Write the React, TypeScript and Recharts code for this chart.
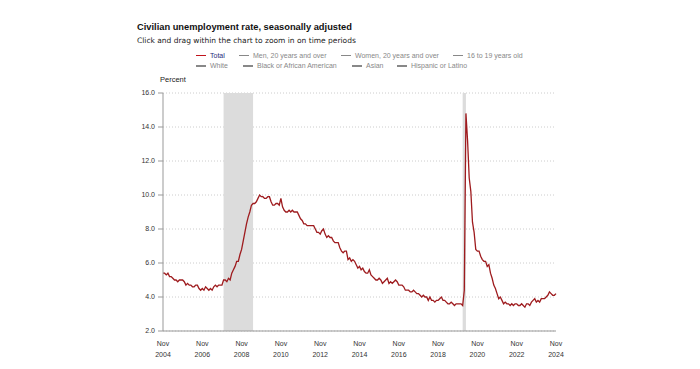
import { LineChart, Line, XAxis, YAxis, CartesianGrid, ReferenceArea } from 'recharts'

const MONTH_NAMES = ['Jan', 'Feb', 'Mar', 'Apr', 'May', 'Jun', 'Jul', 'Aug', 'Sep', 'Oct', 'Nov', 'Dec']
const START_YEAR = 2004
const START_MONTH = 10 // Nov

// monthly rate, Nov 2004 .. Nov 2024
const unemploymentRate = [
  5.4, 5.4,
  5.3, 5.4, 5.2, 5.2, 5.1, 5.0, 5.0, 4.9, 5.0, 5.0, 5.0, 4.9,
  4.7, 4.8, 4.7, 4.7, 4.6, 4.6, 4.7, 4.7, 4.5, 4.4, 4.5, 4.4,
  4.6, 4.5, 4.4, 4.5, 4.4, 4.6, 4.7, 4.6, 4.7, 4.7, 4.7, 5.0,
  5.0, 4.9, 5.1, 5.0, 5.4, 5.6, 5.8, 6.1, 6.1, 6.5, 6.8, 7.3,
  7.8, 8.3, 8.7, 9.0, 9.4, 9.5, 9.5, 9.6, 9.8, 10.0, 9.9, 9.9,
  9.8, 9.8, 9.9, 9.9, 9.6, 9.4, 9.4, 9.5, 9.5, 9.4, 9.8, 9.3,
  9.1, 9.0, 9.0, 9.1, 9.0, 9.1, 9.0, 9.0, 9.0, 8.8, 8.6, 8.5,
  8.3, 8.3, 8.2, 8.2, 8.2, 8.2, 8.2, 8.0, 7.8, 7.8, 7.7, 7.9,
  8.0, 7.7, 7.5, 7.6, 7.5, 7.5, 7.3, 7.2, 7.2, 7.2, 6.9, 6.7,
  6.6, 6.7, 6.7, 6.2, 6.3, 6.1, 6.2, 6.1, 5.9, 5.7, 5.8, 5.6,
  5.7, 5.5, 5.4, 5.4, 5.6, 5.3, 5.2, 5.1, 5.0, 5.0, 5.1, 5.0,
  4.8, 4.9, 5.0, 5.1, 4.8, 4.9, 4.8, 4.9, 5.0, 4.9, 4.7, 4.7,
  4.7, 4.6, 4.4, 4.4, 4.4, 4.3, 4.3, 4.4, 4.3, 4.2, 4.2, 4.1,
  4.0, 4.1, 4.0, 4.0, 3.8, 4.0, 3.8, 3.8, 3.7, 3.8, 3.8, 3.9,
  4.0, 3.8, 3.8, 3.7, 3.6, 3.6, 3.7, 3.6, 3.5, 3.6, 3.6, 3.6,
  3.6, 3.5, 4.4, 14.8, 13.2, 11.0, 10.2, 8.4, 7.8, 6.8, 6.7, 6.7,
  6.4, 6.2, 6.1, 6.1, 5.8, 5.9, 5.4, 5.1, 4.7, 4.5, 4.2, 3.9,
  4.0, 3.8, 3.6, 3.7, 3.6, 3.6, 3.5, 3.6, 3.5, 3.6, 3.6, 3.5,
  3.5, 3.6, 3.5, 3.4, 3.6, 3.6, 3.5, 3.7, 3.8, 3.9, 3.7, 3.8,
  3.7, 3.9, 3.9, 3.9, 4.0, 4.1, 4.3, 4.2, 4.1, 4.1, 4.2,
]

const recessions = [
  ['Dec 2007', 'Jun 2009'],
  ['Feb 2020', 'Apr 2020'],
]

const xTicks = ['Nov 2004', 'Nov 2006', 'Nov 2008', 'Nov 2010', 'Nov 2012', 'Nov 2014', 'Nov 2016', 'Nov 2018', 'Nov 2020', 'Nov 2022', 'Nov 2024']
const yTicks = [2, 4, 6, 8, 10, 12, 14, 16]

const legendRows = [
  [
    { name: 'Total', left: 196, active: true },
    { name: 'Men, 20 years and over', left: 239 },
    { name: 'Women, 20 years and over', left: 341 },
    { name: '16 to 19 years old', left: 453 },
  ],
  [
    { name: 'White', left: 196 },
    { name: 'Black or African American', left: 243 },
    { name: 'Asian', left: 352 },
    { name: 'Hispanic or Latino', left: 397 },
  ],
]

const data = unemploymentRate.map((rate, i) => {
  const m = (START_MONTH + i) % 12
  const y = START_YEAR + Math.floor((START_MONTH + i) / 12)
  return { i, label: `${MONTH_NAMES[m]} ${y}`, rate }
})

const indexOf = (label: string) => data.findIndex((d) => d.label === label)

const FONT = '"Liberation Sans", Arial, sans-serif'
const SMALL_FONT = '"DejaVu Sans", Verdana, sans-serif'

function XTick({ x, y, payload }: any) {
  const label = data[payload.value]?.label ?? ''
  const [mon, yr] = label.split(' ')
  return (
    <g transform={`translate(${x},${y})`}>
      <text textAnchor="middle" fontSize={7} fill="#333" fontFamily={FONT}>
        <tspan x={0} dy={14.5}>{mon}</tspan>
        <tspan x={0} dy={11.5}>{yr}</tspan>
      </text>
    </g>
  )
}

export default function App() {
  return (
    <div style={{ position: 'absolute', left: 0, top: 0, width: 700, height: 369, background: '#fff', fontFamily: FONT }}>
      <div style={{ position: 'absolute', left: 137, top: 21.5, fontSize: 9.3, lineHeight: '11px', fontWeight: 'bold', color: '#111' }}>
        Civilian unemployment rate, seasonally adjusted
      </div>
      <div style={{ position: 'absolute', left: 137, top: 36, fontSize: 7.5, lineHeight: '9px', color: '#222', fontFamily: SMALL_FONT }}>
        Click and drag within the chart to zoom in on time periods
      </div>
      {legendRows.map((row, r) =>
        row.map((item) => (
          <div
            key={item.name}
            style={{ position: 'absolute', left: item.left, top: 51.5 + r * 10.5, height: 8, lineHeight: '8px', fontSize: 7, display: 'flex', alignItems: 'center', whiteSpace: 'nowrap' }}
          >
            <span style={{ display: 'inline-block', width: 10, height: 1.5, background: item.active ? '#c0141c' : '#888', marginRight: 4 }} />
            <span style={{ color: item.active ? '#1f2a7a' : '#888' }}>{item.name}</span>
          </div>
        ))
      )}
      <div style={{ position: 'absolute', left: 160, top: 75, fontSize: 7.5, lineHeight: '9px', color: '#222' }}>Percent</div>
      <LineChart width={700} height={369} data={data} margin={{ top: 93, right: 144, bottom: 0, left: 120 }}>
        <CartesianGrid vertical={false} stroke="#ccc" strokeDasharray="1 2" />
        {recessions.map(([from, to]) => (
          <ReferenceArea key={from} x1={indexOf(from)} x2={indexOf(to)} fill="#dcdcdc" fillOpacity={1} stroke="none" />
        ))}
        <XAxis
          dataKey="i"
          type="number"
          domain={[0, 240]}
          ticks={xTicks.map(indexOf)}
          tick={<XTick />}
          tickLine={false}
          tickSize={0}
          tickMargin={0}
          height={38}
          stroke="#999"
          interval={0}
        />
        <YAxis
          domain={[2, 16]}
          ticks={yTicks}
          width={43}
          tickSize={5}
          tickMargin={3}
          stroke="#999"
          tick={{ fontSize: 7, fill: '#333', fontFamily: FONT }}
          tickFormatter={(v: number) => v.toFixed(1)}
        />
        <Line type="linear" dataKey="rate" stroke="#9e1b1e" strokeWidth={1.3} dot={false} isAnimationActive={false} />
      </LineChart>
    </div>
  )
}
